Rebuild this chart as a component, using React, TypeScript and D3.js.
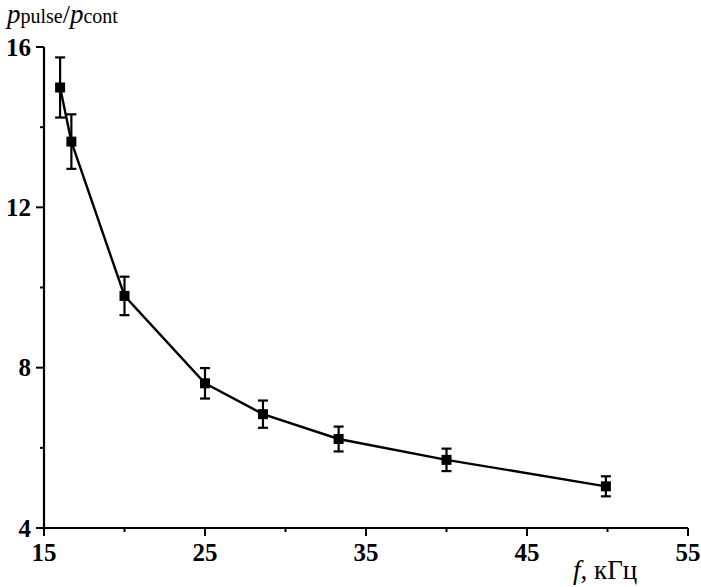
import React from "react";
import * as d3 from "d3";

const freq = [16, 16.7, 20, 25, 28.6, 33.3, 40, 49.9];
const ratio = [14.99, 13.64, 9.79, 7.61, 6.84, 6.22, 5.7, 5.04];
const errs = [0.75, 0.68, 0.48, 0.38, 0.34, 0.31, 0.28, 0.25];
const xMajor = [15, 25, 35, 45, 55];
const xMinor = [20, 30, 40, 50];
const yMajor = [4, 8, 12, 16];
const yMinor = [6, 10, 14];

export default function App() {
  const x = d3.scaleLinear().domain([15, 55]).range([44, 688]);
  const y = d3.scaleLinear().domain([4, 16]).range([528, 47]);
  const pts = freq.map((f, i) => ({ f, v: ratio[i], e: errs[i] }));
  const line = d3
    .line<{ f: number; v: number }>()
    .x((d) => x(d.f))
    .y((d) => y(d.v));
  const font = "Liberation Serif";
  const x0 = x(15);
  const y0 = y(4);
  const tStyle = { fontFamily: font };
  return (
    <svg
      width={701}
      height={587}
      style={{ position: "absolute", left: 0, top: 0, background: "#fff" }}
    >
      <rect width={701} height={587} fill="#fff" />
      <path d={line(pts) || ""} fill="none" stroke="#000" strokeWidth={2.4} />
      {pts.map((p, i) => (
        <g key={"e" + i} stroke="#000" strokeWidth={2.2}>
          <line x1={x(p.f)} x2={x(p.f)} y1={y(p.v + p.e)} y2={y(p.v - p.e)} />
          <line x1={x(p.f) - 5} x2={x(p.f) + 5} y1={y(p.v + p.e)} y2={y(p.v + p.e)} />
          <line x1={x(p.f) - 5} x2={x(p.f) + 5} y1={y(p.v - p.e)} y2={y(p.v - p.e)} />
        </g>
      ))}
      {pts.map((p, i) => (
        <rect
          key={"m" + i}
          x={x(p.f) - 5}
          y={y(p.v) - 5}
          width={10}
          height={10}
          fill="#000"
        />
      ))}
      <line x1={x0} x2={x0} y1={y(16)} y2={y0 + 1} stroke="#000" strokeWidth={2.2} />
      <line x1={x0 - 1} x2={x(55)} y1={y0} y2={y0} stroke="#000" strokeWidth={2.2} />
      {yMajor.map((v) => (
        <g key={"ym" + v}>
          <line x1={x0 - 8} x2={x0} y1={y(v)} y2={y(v)} stroke="#000" strokeWidth={2} />
          <text
            x={31}
            y={y(v)}
            dy="0.35em"
            textAnchor="end"
            style={tStyle}
            fontWeight="bold"
            fontSize={25}
          >
            {v}
          </text>
        </g>
      ))}
      {yMinor.map((v) => (
        <line key={"yn" + v} x1={x0 - 4} x2={x0} y1={y(v)} y2={y(v)} stroke="#000" strokeWidth={2} />
      ))}
      {xMajor.map((v) => (
        <g key={"xm" + v}>
          <line x1={x(v)} x2={x(v)} y1={y0} y2={y0 + 8} stroke="#000" strokeWidth={2} />
          <text
            x={x(v)}
            y={561}
            textAnchor="middle"
            style={tStyle}
            fontWeight="bold"
            fontSize={25}
          >
            {v}
          </text>
        </g>
      ))}
      {xMinor.map((v) => (
        <line key={"xn" + v} x1={x(v)} x2={x(v)} y1={y0} y2={y0 + 4} stroke="#000" strokeWidth={2} />
      ))}
      <text x={573} y={579} style={tStyle} fontSize={27}>
        <tspan fontStyle="italic">f</tspan>
        <tspan>, кГц</tspan>
      </text>
      <text x={7} y={23} style={tStyle} fontSize={20}>
        <tspan fontStyle="italic" fontSize={27}>p</tspan>
        <tspan>pulse</tspan>
        <tspan fontSize={26}>/</tspan>
        <tspan fontStyle="italic" fontSize={27}>p</tspan>
        <tspan>cont</tspan>
      </text>
    </svg>
  );
}
